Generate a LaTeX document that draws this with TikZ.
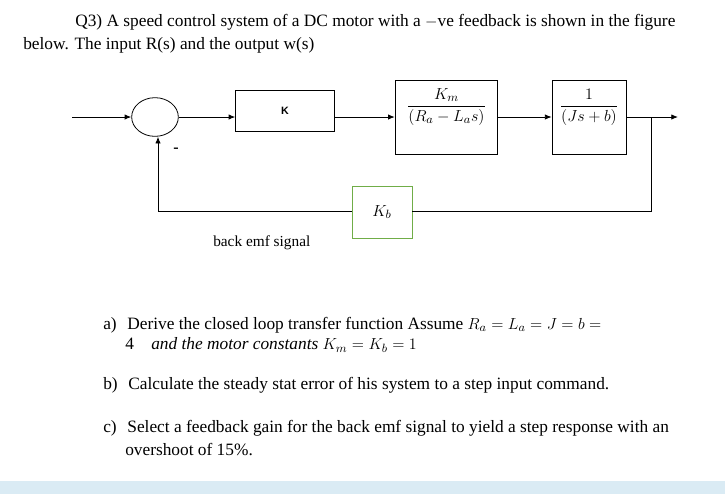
\documentclass[tikz,border=0pt]{standalone}
\usepackage{amsmath}
\usepackage{fontspec}
\setmainfont{Liberation Serif}
\setsansfont{Liberation Sans}
\usetikzlibrary{shapes.geometric}
\definecolor{bandblue}{HTML}{DAEBF4}
\definecolor{kbgreen}{HTML}{70AD47}
\tikzset{
  blk/.style={draw, line width=0.6pt, inner sep=0pt},
  sig/.style={draw, line width=0.6pt, -{Latex[length=5pt,width=4pt]}},
  txt/.style={anchor=west, inner sep=0pt, font=\fontsize{13}{15}\selectfont}
}
\usetikzlibrary{arrows.meta}
\begin{document}
\begin{tikzpicture}[x=0.75pt,y=-0.75pt]
\useasboundingbox (0,0) rectangle (725,494);
\fill[bandblue] (0,481) rectangle (725,494);

% question text
\node[txt] (q1) at (75,22) {Q3) A speed control system of a DC motor with a $-$ve feedback is shown in the figure};
\node[txt] (q2) at (23,45) {below. The input R(s) and the output w(s)};

% blocks
\coordinate (in) at (72,117);
\node[draw, ellipse, line width=0.6pt, minimum width=35pt, minimum height=29pt] (sum) at (155,117) {};
\node[blk, minimum width=74pt, minimum height=31pt, font=\sffamily\bfseries\footnotesize] (gk) at (285,111) {K};
\node[blk, minimum width=77pt, minimum height=56pt] (gm) at (446.5,117.5) {};
\node[font=\fontsize{13}{15}\selectfont] at (446.5,107) {$\dfrac{K_m}{(R_a-L_as)}$};
\node[blk, minimum width=55.5pt, minimum height=56pt] (gj) at (589,117.5) {};
\node[font=\fontsize{13}{15}\selectfont] at (589,107) {$\dfrac{1}{(Js+b)}$};
\node[draw=kbgreen, line width=0.6pt, minimum width=45pt, minimum height=39pt, inner sep=0pt, font=\fontsize{13}{15}\selectfont] (kb) at (382,212) {$K_b$};
\coordinate (br) at (651,117);
\coordinate (out) at (678,117);
\coordinate (fr) at (651,211);
\coordinate (fl) at (158,211);

% connectors
\draw[sig] (in) -- (sum.west);
\draw[sig] (sum.east) -- (gk.west |- sum.east);
\draw[sig] (gk.east |- sum.east) -- (gm.west |- sum.east);
\draw[sig] (gm.east |- sum.east) -- (gj.west |- sum.east);
\draw[sig] (gj.east |- sum.east) -- (out);
\draw[line width=0.6pt] (br) -- (fr) -- (kb.east |- fr);
\draw[sig] (kb.west |- fl) -- (fl) -- (sum.south -| fl);
\node[font=\bfseries\large] (minus) at (176,150) {-};
\node[txt, font=\fontsize{11.5}{13}\selectfont] (emf) at (213,243) {back emf signal};

% questions
\node[txt] (a) at (103,325) {a)\hspace{8pt}Derive the closed loop transfer function Assume $R_a=L_a=J=b=$};
\node[txt] (a2) at (125,345) {4\quad $\mathit{and\ the\ motor\ constants}\ K_m=K_b=1$};
\node[txt] (b) at (103,385) {b)\hspace{8pt}Calculate the steady stat error of his system to a step input command.};
\node[txt] (c) at (103,428) {c)\hspace{8pt}Select a feedback gain for the back emf signal to yield a step response with an};
\node[txt] (c2) at (125,450) {overshoot of 15\%.};
\end{tikzpicture}
\end{document}
